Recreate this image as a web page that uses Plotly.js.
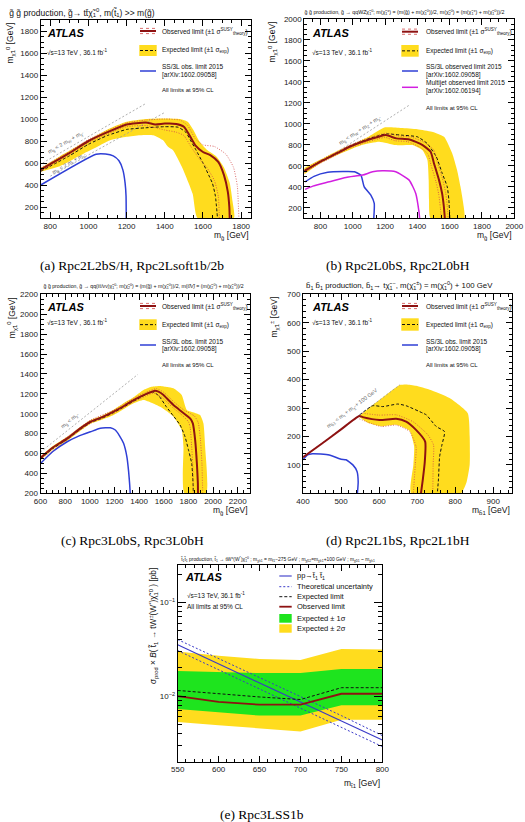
<!DOCTYPE html>
<html>
<head>
<meta charset="utf-8">
<script src="https://cdn.plot.ly/plotly-3.0.1.min.js"></script>
<style>
html,body{margin:0;padding:0;background:#fff}
#chart{width:525px;height:822px}
</style>
</head>
<body>
<div id="chart"></div>
<script>
// ---------------- (a) gluino -> t tbar LSP : [m_gluino, m_LSP] in GeV ----------------
const obsA = [[750,540],[800,590],[900,690],[1000,800],[1100,880],[1200,950],[1300,968],[1350,950],[1400,958],[1460,955],[1500,930],[1530,850],[1560,760],[1600,700],[1640,670],[1680,610],[1710,490],[1730,340],[1738,200],[1740,100]];
const obsA_up = [[750,555],[900,705],[1000,815],[1100,895],[1200,965],[1300,990],[1400,1000],[1480,990],[1520,940],[1560,820],[1600,765],[1660,750],[1720,680],[1760,560],[1780,390],[1788,100]];
const obsA_dn = [[750,525],[900,675],[1000,785],[1100,865],[1200,930],[1300,940],[1400,900],[1460,880],[1500,850],[1540,740],[1580,640],[1620,560],[1660,440],[1680,300],[1686,100]];
const expA = [[750,525],[900,665],[1000,770],[1100,850],[1200,905],[1300,920],[1400,930],[1470,925],[1510,880],[1540,790],[1564,716],[1600,600],[1630,490],[1650,413],[1665,300],[1676,100]];
const bandA_hi = [[750,555],[850,660],[980,790],[1100,905],[1200,975],[1300,1000],[1400,1005],[1480,1000],[1520,975],[1550,900],[1580,800],[1620,720],[1670,660],[1710,560],[1740,420],[1755,250],[1762,100]];
const bandA_lo = [[1572,100],[1546,321],[1490,564],[1443,716],[1417,747],[1391,807],[1339,853],[1270,853],[1200,838],[1114,807],[1028,731],[976,686],[850,570],[750,520]];
const ss3lA = [[750,400],[1040,680],[1090,682],[1130,665],[1160,620],[1180,540],[1192,420],[1197,300],[1198,100]];
const kinA_W = [[760,600],[1300,1140]];
const kinA_t = [[800,480],[1400,1060]];

// ---------------- (b) gluino -> qqWZ LSP ----------------
const obsB = [[700,550],[800,640],[900,718],[980,782],[1060,830],[1160,877],[1205,893],[1270,862],[1350,852],[1430,800],[1482,734],[1503,623],[1534,464],[1553,337],[1564,210],[1570,100]];
const obsB_up = [[700,565],[800,655],[900,733],[980,797],[1060,848],[1160,895],[1210,912],[1280,885],[1360,875],[1445,822],[1500,755],[1522,640],[1555,480],[1575,345],[1585,215],[1590,100]];
const obsB_dn = [[700,535],[800,625],[900,703],[980,767],[1060,812],[1160,858],[1200,872],[1260,840],[1340,830],[1415,778],[1465,712],[1485,605],[1515,450],[1532,330],[1542,205],[1548,100]];
const expB = [[700,555],[800,645],[900,722],[980,788],[1060,838],[1160,888],[1210,905],[1300,893],[1400,877],[1460,814],[1517,687],[1554,528],[1585,400],[1595,273],[1601,100]];
const bandB_hi = [[700,580],[800,660],[900,740],[1000,805],[1100,880],[1200,967],[1300,962],[1400,950],[1490,925],[1565,877],[1616,718],[1646,559],[1667,400],[1687,210],[1690,100]];
const bandB_lo = [[1482,100],[1472,273],[1470,464],[1462,655],[1431,750],[1369,798],[1266,798],[1164,830],[1061,800],[1000,765],[900,700],[800,625],[700,520]];
const ss3lB = [[705,448],[760,500],[845,538],[940,545],[1010,543],[1050,512],[1071,400],[1112,321],[1133,242],[1130,100]];
const multijetB = [[705,376],[753,407],[855,448],[958,490],[1061,512],[1122,543],[1184,553],[1266,543],[1349,464],[1390,337],[1410,162],[1414,100]];
const kinB = [[900,729],[1350,1179]];

// ---------------- (c) gluino -> qq(ll/nunu) LSP ----------------
const obsC = [[600,555],[700,660],[820,755],[920,850],[1005,919],[1100,965],[1193,1020],[1280,1080],[1355,1137],[1450,1195],[1531,1231],[1557,1221],[1598,1188],[1640,1135],[1679,1087],[1746,1020],[1814,953],[1836,903],[1855,735],[1869,500],[1877,300],[1878,200]];
const obsC_up = [[600,570],[820,770],[1005,935],[1193,1036],[1355,1155],[1450,1212],[1540,1252],[1600,1215],[1690,1110],[1760,1040],[1850,975],[1880,910],[1898,735],[1910,500],[1916,200]];
const obsC_dn = [[600,540],[820,740],[1005,903],[1193,1003],[1355,1118],[1450,1175],[1520,1208],[1590,1160],[1670,1065],[1740,995],[1800,920],[1815,860],[1825,700],[1835,500],[1840,200]];
const expC = [[600,545],[700,650],[820,745],[920,840],[1005,910],[1100,955],[1193,1010],[1280,1070],[1355,1125],[1450,1190],[1510,1220],[1560,1180],[1621,1070],[1680,975],[1733,886],[1773,768],[1800,640],[1827,500],[1838,300],[1840,200]];
const bandC_hi = [[600,570],[700,675],[820,770],[920,865],[1005,935],[1100,980],[1193,1040],[1280,1110],[1355,1165],[1436,1238],[1500,1270],[1571,1279],[1630,1268],[1679,1255],[1746,1188],[1787,1037],[1850,1010],[1895,986],[1922,903],[1936,668],[1944,200]];
const bandC_lo = [[1768,200],[1760,668],[1746,836],[1679,970],[1620,1030],[1571,1070],[1500,1110],[1436,1137],[1355,1104],[1280,1050],[1193,987],[1100,940],[1005,900],[920,825],[820,730],[700,640],[600,535]];
const ss3lC = [[600,500],[700,620],[816,718],[900,770],[1005,818],[1086,853],[1167,859],[1207,836],[1240,780],[1274,702],[1301,567],[1315,420],[1323,300],[1328,200]];
const kinC = [[600,615],[1390,1395]];

// ---------------- (d) sbottom -> t chargino ----------------
const obsD = [[400,127],[450,175],[500,225],[548,272],[557,268],[601,258],[645,262],[671,252],[697,223],[721,182],[720,110],[715,50],[710,0]];
const obsD_up = [[555,282],[600,275],[645,276],[689,252],[728,206],[743,170],[742,100],[741,0]];
const obsD_dn = [[548,262],[605,235],[645,240],[680,218],[697,165],[695,100],[690,0]];
const expD = [[548,275],[583,308],[610,305],[649,314],[671,308],[715,282],[724,276],[750,235],[772,217],[765,170],[759,129],[756,50],[753,0]];
const bandD_hi = [[548,272],[583,311],[618,346],[654,381],[671,383],[697,378],[733,364],[785,335],[833,282],[838,200],[838,100],[830,40],[815,0]];
const bandD_lo = [[684,0],[690,100],[692,165],[680,220],[645,241],[605,236],[570,248],[548,268]];
const ss3lD = [[400,118],[412,135],[425,139],[469,135],[500,120],[513,118],[531,100],[542,77],[545,40],[543,0]];
const kinD = [[400,127],[655,382]];

// ---------------- (e) stop -> t W(W*) LSP cross-section limit ----------------
const mStop = [550, 600, 650, 700, 750, 800];
const obsE = [0.0100, 0.0087, 0.0081, 0.0081, 0.0106, 0.0106];
const expE = [0.0115, 0.0106, 0.0098, 0.0092, 0.0123, 0.0123];
const exp1upE = [0.0185, 0.0180, 0.0176, 0.0176, 0.0195, 0.0195];
const exp1dnE = [0.0073, 0.0067, 0.0062, 0.0062, 0.0080, 0.0080];
const exp2upE = [0.0299, 0.0270, 0.0249, 0.0243, 0.0319, 0.0315];
const exp2dnE = [0.0053, 0.0049, 0.0045, 0.0042, 0.0056, 0.0056];
const xsecE = [0.0352, 0.0220, 0.0138, 0.0086, 0.0054, 0.0034];
const xsecUpE = [0.0401, 0.0251, 0.0157, 0.0098, 0.0062, 0.0038];
const xsecDnE = [0.0306, 0.0191, 0.0120, 0.0075, 0.0047, 0.0029];

// ---------------- styling ----------------
const W = 525, H = 822;
const SANS = 'Liberation Sans, Arial, sans-serif';
const SERIF = 'Liberation Serif, Times New Roman, serif';
const C_OBS = '#8e1212', C_OBS_THEO = '#d24a4a', C_YEL = '#ffdc1e', C_GRN = '#1ee41e';
const C_BLUE = '#2f3fd6', C_MAG = '#d21fe0', C_KIN = '#9a9a9a', C_THEO = '#3a3ac8';

const axId = a => a === 1 ? '' : String(a);

function curve(pts, a, color, width, dash, smooth) {
  return {
    type: 'scatter', mode: 'lines',
    x: pts.map(p => p[0]), y: pts.map(p => p[1]),
    xaxis: 'x' + axId(a), yaxis: 'y' + axId(a),
    line: {color: color, width: width, dash: dash || 'solid',
           shape: smooth ? 'spline' : 'linear', smoothing: 0.5},
    hoverinfo: 'skip', showlegend: false
  };
}
function band(hi, lo, a, color) {
  const pts = hi.concat(lo);
  return {
    type: 'scatter', mode: 'lines',
    x: pts.map(p => p[0]), y: pts.map(p => p[1]),
    xaxis: 'x' + axId(a), yaxis: 'y' + axId(a),
    fill: 'toself', fillcolor: color, line: {width: 0, color: color, shape: 'spline', smoothing: 0.5},
    hoverinfo: 'skip', showlegend: false
  };
}
function bandXY(x, hi, lo, a, color) {
  return {
    type: 'scatter', mode: 'lines',
    x: x.concat(x.slice().reverse()), y: hi.concat(lo.slice().reverse()),
    xaxis: 'x' + axId(a), yaxis: 'y' + axId(a),
    fill: 'toself', fillcolor: color, line: {width: 0, color: color},
    hoverinfo: 'skip', showlegend: false
  };
}
function seriesXY(x, y, a, color, width, dash) {
  return {
    type: 'scatter', mode: 'lines', x: x, y: y,
    xaxis: 'x' + axId(a), yaxis: 'y' + axId(a),
    line: {color: color, width: width, dash: dash || 'solid'},
    hoverinfo: 'skip', showlegend: false
  };
}

const traces = [];
// standard exclusion-contour panel
function contourPanel(a, p) {
  traces.push(band(p.hi, p.lo, a, C_YEL));
  traces.push(curve(p.kin1, a, C_KIN, 0.8, '2px,2px'));
  if (p.kin2) traces.push(curve(p.kin2, a, C_KIN, 0.8, '2px,2px'));
  traces.push(curve(p.ss3l, a, C_BLUE, 1.5, 'solid', true));
  if (p.multijet) traces.push(curve(p.multijet, a, C_MAG, 1.5, 'solid', true));
  traces.push(curve(p.exp, a, '#111', 1, '3px,2px', true));
  traces.push(curve(p.up, a, C_OBS_THEO, 0.8, '1px,1.5px', true));
  traces.push(curve(p.dn, a, C_OBS_THEO, 0.8, '1px,1.5px', true));
  traces.push(curve(p.obs, a, C_OBS, 2, 'solid', true));
}
contourPanel(1, {hi: bandA_hi, lo: bandA_lo, kin1: kinA_W, kin2: kinA_t, ss3l: ss3lA, exp: expA, up: obsA_up, dn: obsA_dn, obs: obsA});
contourPanel(2, {hi: bandB_hi, lo: bandB_lo, kin1: kinB, ss3l: ss3lB, multijet: multijetB, exp: expB, up: obsB_up, dn: obsB_dn, obs: obsB});
contourPanel(3, {hi: bandC_hi, lo: bandC_lo, kin1: kinC, ss3l: ss3lC, exp: expC, up: obsC_up, dn: obsC_dn, obs: obsC});
contourPanel(4, {hi: bandD_hi, lo: bandD_lo, kin1: kinD, ss3l: ss3lD, exp: expD, up: obsD_up, dn: obsD_dn, obs: obsD});

// cross-section panel
traces.push(bandXY(mStop, exp2upE, exp2dnE, 5, C_YEL));
traces.push(bandXY(mStop, exp1upE, exp1dnE, 5, C_GRN));
traces.push(seriesXY(mStop, xsecUpE, 5, C_THEO, 1, '2px,2px'));
traces.push(seriesXY(mStop, xsecDnE, 5, C_THEO, 1, '2px,2px'));
traces.push(seriesXY(mStop, xsecE, 5, C_THEO, 1.1));
traces.push(seriesXY(mStop, expE, 5, '#111', 1, '3px,2px'));
traces.push(seriesXY(mStop, obsE, 5, C_OBS, 1.8));

// ---------------- axes ----------------
const tickFont = {family: SANS, size: 8, color: '#222'};
function axis(domPx, horizontal, extra) {
  const dom = horizontal ? [domPx[0] / W, domPx[1] / W] : [1 - domPx[1] / H, 1 - domPx[0] / H];
  return Object.assign({
    domain: dom, showline: true, linecolor: '#000', linewidth: 1, mirror: 'allticks',
    ticks: 'inside', ticklen: 6, tickwidth: 1, tickcolor: '#000',
    showgrid: false, zeroline: false, tickfont: tickFont, fixedrange: true,
    minor: {ticks: 'inside', ticklen: 3, tickwidth: 1, tickcolor: '#000', showgrid: false}
  }, extra);
}
function linTicks(vals) { return {tickmode: 'array', tickvals: vals, ticktext: vals.map(String)}; }
function range(a, b, s) { const r = []; for (let v = a; v <= b + 1e-9; v += s) r.push(v); return r; }
function minorLin(step) { return {minor: {tickmode: 'linear', tick0: 0, dtick: step, ticks: 'inside', ticklen: 3, tickcolor: '#000'}}; }

const logMinor = [];
[0.001, 0.01, 0.1].forEach(d => { for (let k = 2; k <= 9; k++) logMinor.push(k * d); });

const layout = {
  width: W, height: H, margin: {l: 0, r: 0, t: 0, b: 0},
  paper_bgcolor: '#fff', plot_bgcolor: '#fff', showlegend: false,
  font: {family: SANS, color: '#222'},
  xaxis: axis([40.7, 250.7], true, Object.assign({anchor: 'y', range: [750, 1850]}, linTicks(range(800, 1800, 200)), minorLin(50))),
  yaxis: axis([20, 218], false, Object.assign({anchor: 'x', range: [100, 1900]}, linTicks(range(200, 1800, 200)), minorLin(50))),
  xaxis2: axis([304.3, 514.3], true, Object.assign({anchor: 'y2', range: [700, 2000]}, linTicks(range(800, 2000, 200)), minorLin(50))),
  yaxis2: axis([19, 218.3], false, Object.assign({anchor: 'x2', range: [100, 2000]}, linTicks(range(200, 2000, 200)), minorLin(50))),
  xaxis3: axis([40.5, 250], true, Object.assign({anchor: 'y3', range: [600, 2300]}, linTicks(range(600, 2200, 200)), minorLin(50))),
  yaxis3: axis([294.3, 493.3], false, Object.assign({anchor: 'x3', range: [200, 2200]}, linTicks(range(200, 2200, 200)), minorLin(50))),
  xaxis4: axis([303, 512.3], true, Object.assign({anchor: 'y4', range: [400, 950]}, linTicks(range(400, 900, 100)), minorLin(20))),
  yaxis4: axis([294.3, 493.3], false, Object.assign({anchor: 'x4', range: [0, 700]}, linTicks(range(100, 700, 100)), minorLin(20))),
  xaxis5: axis([177.7, 382.3], true, Object.assign({anchor: 'y5', range: [550, 800]}, linTicks(range(550, 800, 50)), minorLin(10))),
  yaxis5: axis([565, 761.7], false, {anchor: 'x5', type: 'log', range: [Math.log10(0.002), Math.log10(0.25)],
    tickmode: 'array', tickvals: [0.01, 0.1], ticktext: ['10<sup>−2</sup>', '10<sup>−1</sup>'], ticklen: 8,
    minor: {tickmode: 'array', tickvals: logMinor, ticks: 'inside', ticklen: 4, tickcolor: '#000'}}),
  shapes: [], annotations: []
};

// ---------------- text & legend helpers (page-pixel placement) ----------------
const fx = x => x / W, fy = y => 1 - y / H;
function txt(x, y, text, size, o) {
  o = o || {};
  layout.annotations.push({
    xref: 'paper', yref: 'paper', x: fx(x), y: fy(y), text: text, showarrow: false,
    xanchor: o.xa || 'left', yanchor: o.ya || 'middle', textangle: o.angle || 0,
    font: {family: o.family || SANS, size: size, color: o.color || '#111'}
  });
}
function hline(x0, x1, y, color, width, dash) {
  layout.shapes.push({type: 'line', xref: 'paper', yref: 'paper', x0: fx(x0), x1: fx(x1), y0: fy(y), y1: fy(y),
    line: {color: color, width: width, dash: dash || 'solid'}});
}
function box(x0, x1, y0, y1, color) {
  layout.shapes.push({type: 'rect', xref: 'paper', yref: 'paper', x0: fx(x0), x1: fx(x1), y0: fy(y1), y1: fy(y0),
    fillcolor: color, line: {width: 0}});
}

const GT = 'g\u0303', CHI = '\u03c7\u0303', ST = 't\u0303', SB = 'b\u0303';
const LSP = CHI + '<sub>1</sub><sup>0</sup>';

function atlasBlock(x, y0, ySqrt) {
  txt(x, y0, '<b><i>ATLAS</i></b>', 11, {color: '#000'});
  txt(x, ySqrt, '\u221as=13 TeV , 36.1 fb<sup>-1</sup>', 6.5);
}
function contourLegend(lx, tx, yObs, yBox0, yBox1, extra) {
  hline(lx, lx + 16, yObs - 2.6, C_OBS_THEO, 0.8, 'dot');
  hline(lx, lx + 16, yObs + 2.6, C_OBS_THEO, 0.8, 'dot');
  hline(lx, lx + 16, yObs, C_OBS, 2);
  txt(tx, yObs, 'Observed limit (\u00b11 \u03c3<sup>SUSY</sup><sub>theory</sub>)', 6.5);
  box(lx - 0.7, lx + 16.7, yBox0, yBox1, C_YEL);
  hline(lx, lx + 16, (yBox0 + yBox1) / 2, '#111', 1, '3px,2px');
  txt(tx, (yBox0 + yBox1) / 2, 'Expected limit (\u00b11 \u03c3<sub>exp</sub>)', 6.5);
  extra.forEach(e => {
    hline(lx, lx + 16, e.y, e.color, 1.5);
    txt(tx, e.y - 4, e.l1, 6.5);
    txt(tx, e.y + 4, e.l2, 6.5);
  });
}

// (a)
txt(7, 12.5, GT + ' ' + GT + ' production, ' + GT + '\u2192 tt\u0304' + LSP + ', m(' + ST + '<sub>1</sub>) >> m(' + GT + ')', 8.5);
atlasBlock(45, 32.7, 51.7);
contourLegend(140, 160, 31, 45, 56, [{y: 71, color: C_BLUE, l1: 'SS/3L obs. limit 2015', l2: '[arXiv:1602.09058]'}]);
txt(160, 90, 'All limits at 95% CL', 6);
txt(10, 21, 'm<sub>' + CHI + '1</sub><sup>0</sup> [GeV]', 8.5, {angle: -90, xa: 'center', ya: 'top'});
txt(250.7, 235, 'm<sub>' + GT + '</sub> [GeV]', 8.5, {xa: 'right'});
txt(66, 143, 'm<sub>' + GT + '</sub> < 2 m<sub>W</sub> + m<sub>' + CHI + '</sub>', 5.5, {angle: -30, xa: 'center', color: '#666'});
txt(69, 163, 'm<sub>' + GT + '</sub> < 2 m<sub>t</sub> + m<sub>' + CHI + '</sub>', 5.5, {angle: -30, xa: 'center', color: '#666'});

// (b)
txt(302, 12.5, GT + ' ' + GT + ' production, ' + GT + ' \u2192 qqWZ' + LSP + '; m(' + CHI + '<sub>1</sub><sup>\u00b1</sup>) = (m(' + GT + ') + m(' + LSP + '))/2, m(' + CHI + '<sub>2</sub><sup>0</sup>) = (m(' + CHI + '<sub>1</sub><sup>\u00b1</sup>) + m(' + LSP + '))/2', 5.3);
atlasBlock(310.3, 32.7, 51.7);
contourLegend(402, 423.7, 31.7, 45, 56.7, [
  {y: 71, color: C_BLUE, l1: 'SS/3L observed limit 2015', l2: '[arXiv:1602.09058]'},
  {y: 87.3, color: C_MAG, l1: 'Multijet observed limit 2015', l2: '[arXiv:1602.06194]'}]);
txt(423.7, 108.3, 'All limits at 95% CL', 6);
txt(272, 20, 'm<sub>' + CHI + '1</sub><sup>0</sup> [GeV]', 8.5, {angle: -90, xa: 'center', ya: 'top'});
txt(514.3, 235, 'm<sub>' + GT + '</sub> [GeV]', 8.5, {xa: 'right'});
txt(360, 131, 'm<sub>' + GT + '</sub> < m<sub>W</sub> + m<sub>Z</sub> + m<sub>' + CHI + '</sub>', 5.5, {angle: -33, xa: 'center', color: '#666'});

// (c)
txt(41, 287, GT + ' ' + GT + ' production, ' + GT + ' \u2192 qq(\u2113\u2113/\u03bd\u03bd)' + LSP + '; m(' + CHI + '<sub>2</sub><sup>0</sup>) = (m(' + GT + ') + m(' + LSP + '))/2, m(\u2113\u0303/\u03bd\u0303) = (m(' + CHI + '<sub>2</sub><sup>0</sup>) + m(' + LSP + '))/2', 5.2);
atlasBlock(45, 307.3, 321.7);
contourLegend(140, 160, 306, 319.3, 330, [{y: 345, color: C_BLUE, l1: 'SS/3L obs. limit 2015', l2: '[arXiv:1602.09058]'}]);
txt(160, 365, 'All limits at 95% CL', 6);
txt(11.7, 295, 'm<sub>' + CHI + '1</sub><sup>0</sup> [GeV]', 8.5, {angle: -90, xa: 'center', ya: 'top'});
txt(250, 510, 'm<sub>' + GT + '</sub> [GeV]', 8.5, {xa: 'right'});
txt(70, 420, 'm<sub>' + GT + '</sub> < m<sub>' + CHI + '</sub>', 5.5, {angle: -39, xa: 'center', color: '#666'});

// (d)
txt(303.7, 285, SB + '<sub>1</sub> ' + SB + '<sub>1</sub> production, ' + SB + '<sub>1</sub>\u2192 t' + CHI + '<sub>1</sub><sup>\u2212</sup>, m(' + CHI + '<sub>1</sub><sup>\u00b1</sup>) = m(' + LSP + ') + 100 GeV', 7.8);
atlasBlock(310.3, 307.3, 321.7);
contourLegend(402, 423.7, 306, 318.3, 330.7, [{y: 345, color: C_BLUE, l1: 'SS/3L obs. limit 2015', l2: '[arXiv:1602.09058]'}]);
txt(423.7, 365, 'All limits at 95% CL', 6);
txt(274, 295, 'm<sub>' + CHI + '1</sub><sup>\u00b1</sup> [GeV]', 8.5, {angle: -90, xa: 'center', ya: 'top'});
txt(512.3, 510, 'm<sub>' + SB + '1</sub> [GeV]', 8.5, {xa: 'right'});
txt(352, 408, 'm<sub>' + SB + '1</sub> < m<sub>t</sub> + m<sub>' + CHI + '</sub> + 100 GeV', 5.5, {angle: -37, xa: 'center', color: '#666'});

// (e)
txt(178, 559, ST + '<sub>1</sub>' + ST + '<sub>1</sub> production, ' + ST + '<sub>1</sub> \u2192 tW<sup>\u00b1</sup>(W<sup>*</sup>)' + LSP + ' ; m<sub>' + CHI + '\u00b11</sub> = m<sub>' + ST + '1</sub>\u2212275 GeV ; m<sub>' + CHI + '02</sub>=m<sub>' + CHI + '\u00b11</sub>+100 GeV ; m<sub>' + CHI + '01</sub> ~ m<sub>' + CHI + '\u00b11</sub>', 4.9);
txt(183.3, 577.3, '<b><i>ATLAS</i></b>', 11, {color: '#000'});
txt(185, 595, '\u221as=13 TeV, 36.1 fb<sup>-1</sup>', 6.5);
txt(185, 606, 'All limits at 95% CL', 6.5);
hline(279.3, 291.7, 576, C_THEO, 1.1);
txt(295, 576, 'pp\u2192' + ST + '<sub>1</sub> ' + ST + '<sub>1</sub>', 7.5);
hline(279.3, 291.7, 586.7, C_THEO, 1, '2px,2px');
txt(295, 586.7, 'Theoretical uncertainty', 7.5);
hline(279.3, 291.7, 596.7, '#111', 1, '3px,2px');
txt(295, 596.7, 'Expected limit', 7.5);
hline(279.3, 291.7, 606.7, C_OBS, 1.8);
txt(295, 606.7, 'Observed limit', 7.5);
box(279.3, 291.7, 614, 622.7, C_GRN);
txt(295, 618.3, 'Expected \u00b1 1\u03c3', 7.5);
box(279.3, 291.7, 624.3, 632.7, C_YEL);
txt(295, 628.5, 'Expected \u00b1 2\u03c3', 7.5);
txt(153, 566, '\u03c3<sub>prod</sub> \u00d7 <i>B</i>( ' + ST + '<sub>1</sub> \u2192 tW<sup>\u00b1</sup>(W<sup>*</sup>)' + LSP + ' ) [pb]', 8.3, {angle: -90, xa: 'center', ya: 'top'});
txt(382.3, 783, 'm<sub>' + ST + '1</sub> [GeV]', 8.5, {xa: 'right'});

// sub-figure captions
txt(132, 265, '(a) Rpc2L2bS/H, Rpc2Lsoft1b/2b', 13.5, {xa: 'center', family: SERIF, color: '#000'});
txt(398, 265, '(b) Rpc2L0bS, Rpc2L0bH', 13.5, {xa: 'center', family: SERIF, color: '#000'});
txt(132, 540, '(c) Rpc3L0bS, Rpc3L0bH', 13.5, {xa: 'center', family: SERIF, color: '#000'});
txt(398, 540, '(d) Rpc2L1bS, Rpc2L1bH', 13.5, {xa: 'center', family: SERIF, color: '#000'});
txt(262, 814, '(e) Rpc3LSS1b', 13.5, {xa: 'center', family: SERIF, color: '#000'});

Plotly.newPlot('chart', traces, layout, {staticPlot: true, displayModeBar: false});
</script>
</body>
</html>
